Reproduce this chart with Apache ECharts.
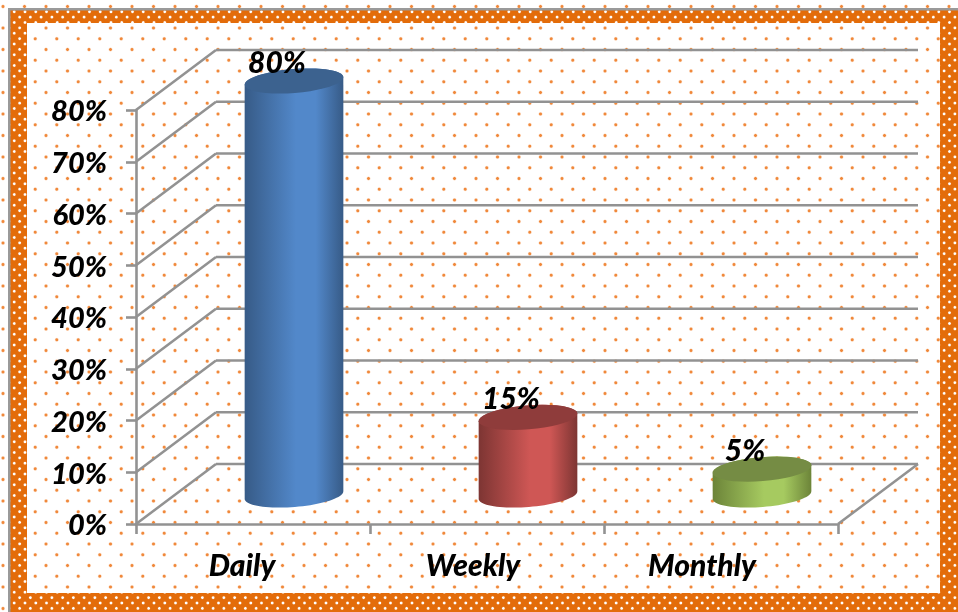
<!DOCTYPE html>
<html>
<head>
<meta charset="utf-8">
<style>html,body{margin:0;padding:0;background:#fff}#main{width:958px;height:612px}</style>
<script src="https://cdn.jsdelivr.net/npm/echarts@6/dist/echarts.min.js"></script>
</head>
<body>
<div id="main"></div>
<script>
var categories = ['Daily', 'Weekly', 'Monthly'];
var values = [80, 15, 5];
var yTicks = [0, 10, 20, 30, 40, 50, 60, 70, 80];

var labelFont = 'Lato';
var lineColor = '#929292';
// colours per bar: cap, edge of the body, middle of the body
var barColors = [
    ['#3c628f', '#375b87', '#5288ca'],
    ['#8f3c3b', '#7d3533', '#cf5755'],
    ['#758c44', '#6c8439', '#a6ca60']
];
// how far the back wall sits from the front plane
var depthX = 80, depthY = -60;

function dotTile(bg, dot, halo, cols, rows, ox, oy, r) {
    var c = document.createElement('canvas');
    c.width = 43; c.height = 43;
    var ctx = c.getContext('2d');
    ctx.fillStyle = bg;
    ctx.fillRect(0, 0, 43, 43);
    var dx = 43 / cols, dy = 43 / rows;
    for (var j = 0; j < rows; j++) {
        for (var i = 0; i < cols; i++) {
            var x = ox + i * dx + (j % 2 ? dx / 2 : 0), y = oy + j * dy;
            for (var a = -43; a <= 43; a += 43) {
                for (var b = -43; b <= 43; b += 43) {
                    var g = ctx.createRadialGradient(x + a, y + b, 0, x + a, y + b, r);
                    g.addColorStop(0, dot);
                    g.addColorStop(0.4, dot);
                    g.addColorStop(1, halo);
                    ctx.fillStyle = g;
                    ctx.beginPath();
                    ctx.arc(x + a, y + b, r, 0, Math.PI * 2);
                    ctx.fill();
                }
            }
        }
    }
    return c;
}

var paper = dotTile('#ffffff', '#f0883a', 'rgba(255,255,255,0)', 2, 4, 3, 6.5, 2.6);
var frame = dotTile('#e36c0a', '#ffffff', 'rgba(227,108,10,0)', 4, 8, 3.5, 1, 2.3);

function frameRect(x, y, w, h) {
    return {type: 'rect', silent: true, shape: {x: x, y: y, width: w, height: h},
        style: {fill: {image: frame, repeat: 'repeat'}}};
}
function greyRect(x, y, w, h) {
    return {type: 'rect', silent: true, shape: {x: x, y: y, width: w, height: h}, style: {fill: '#9a9a9a'}};
}

// points round a tilted ellipse, from angle a0 to a1
function arcPoints(cx, cy, rx, ry, a0, a1) {
    var pts = [], tilt = -4.6 * Math.PI / 180;
    for (var k = 0; k <= 40; k++) {
        var a = a0 + (a1 - a0) * k / 40;
        var ex = rx * Math.cos(a), ey = ry * Math.sin(a);
        pts.push([cx + ex * Math.cos(tilt) - ey * Math.sin(tilt), cy + ex * Math.sin(tilt) + ey * Math.cos(tilt)]);
    }
    return pts;
}

function renderWall(params, api) {
    var c = api.coord([0, api.value(1)]);
    var box = params.coordSys;
    var style = {stroke: lineColor, lineWidth: 2.6, fill: null};
    var kids = [
        {type: 'line', shape: {x1: box.x, y1: c[1], x2: box.x + depthX, y2: c[1] + depthY}, style: style},
        {type: 'line', shape: {x1: box.x + depthX, y1: c[1] + depthY, x2: box.x + box.width + depthX, y2: c[1] + depthY}, style: style}
    ];
    if (api.value(1) == 0) {
        kids.push({type: 'line', shape: {x1: box.x + box.width, y1: c[1], x2: box.x + box.width + depthX, y2: c[1] + depthY}, style: style});
    }
    return {type: 'group', children: kids};
}

function renderBar(params, api) {
    var i = api.value(0);
    var top = api.coord([i, api.value(1)]);
    var base = api.coord([i, 0]);
    var colors = barColors[i];
    var cx = top[0] + depthX / 2 + 1, rx = 49.5, ry = 12;
    var topY = top[1] + depthY / 2, baseY = base[1] + depthY / 2;
    var lower = arcPoints(cx, baseY + 1, rx, ry, Math.PI, 0);
    var upper = arcPoints(cx, topY + 1, rx, ry, 0, -Math.PI);
    return {type: 'group', children: [
        {type: 'polygon', shape: {points: lower.concat(upper)}, style: {fill: {
            type: 'linear', x: 0, y: 0, x2: 1, y2: 0,
            colorStops: [
                {offset: 0, color: colors[1]},
                {offset: 0.52, color: colors[2]},
                {offset: 0.72, color: colors[2]},
                {offset: 1, color: colors[1]}
            ]
        }}},
        {type: 'polygon', shape: {points: arcPoints(cx, topY + 1, rx, ry, 0, Math.PI * 2)}, style: {fill: colors[0]}},
        {type: 'text', z2: 10, style: {
            x: cx - 17, y: topY - 17, text: api.value(1) + '%', align: 'center', verticalAlign: 'middle',
            font: 'italic 900 30px ' + labelFont, fill: '#000'
        }}
    ]};
}

var myChart = echarts.init(document.getElementById('main'));
myChart.setOption({
    animation: false,
    backgroundColor: {image: paper, repeat: 'repeat'},
    graphic: [
        frameRect(10, 10, 948, 13),
        frameRect(10, 593, 948, 19),
        frameRect(10, 23, 17, 570),
        frameRect(940, 23, 18, 570),
        greyRect(8, 8, 950, 2.5),
        greyRect(8, 8, 2.5, 604)
    ],
    grid: {left: 136, top: 110, width: 702, height: 414},
    xAxis: {
        type: 'category',
        data: [
            {value: categories[0], textStyle: {padding: [0, 22, 0, 0]}},
            {value: categories[1], textStyle: {padding: [0, 28, 0, 0]}},
            {value: categories[2], textStyle: {padding: [0, 38, 0, 0]}}
        ],
        axisLine: {lineStyle: {color: lineColor, width: 2.6}},
        axisTick: {show: true, alignWithLabel: false, length: 10, lineStyle: {color: lineColor, width: 2.6}},
        axisLabel: {margin: 27, color: '#000', fontFamily: labelFont, fontStyle: 'italic', fontWeight: 900, fontSize: 30}
    },
    yAxis: {
        type: 'value', min: 0, max: 80, interval: 10,
        splitLine: {show: false},
        axisLine: {show: true, lineStyle: {color: lineColor, width: 2.6}},
        axisTick: {show: true, length: 10, lineStyle: {color: lineColor, width: 2.6}},
        axisLabel: {margin: 29, verticalAlign: 'top', lineHeight: 4, color: '#000', fontFamily: labelFont, fontStyle: 'italic', fontWeight: 900, fontSize: 29, formatter: '{value}%'}
    },
    series: [
        {type: 'custom', silent: true, z: 1, renderItem: renderWall, data: yTicks.map(function (t) { return [0, t]; })},
        {type: 'custom', silent: true, z: 2, renderItem: renderBar, data: values.map(function (v, i) { return [i, v]; })}
    ]
});
</script>
</body>
</html>
